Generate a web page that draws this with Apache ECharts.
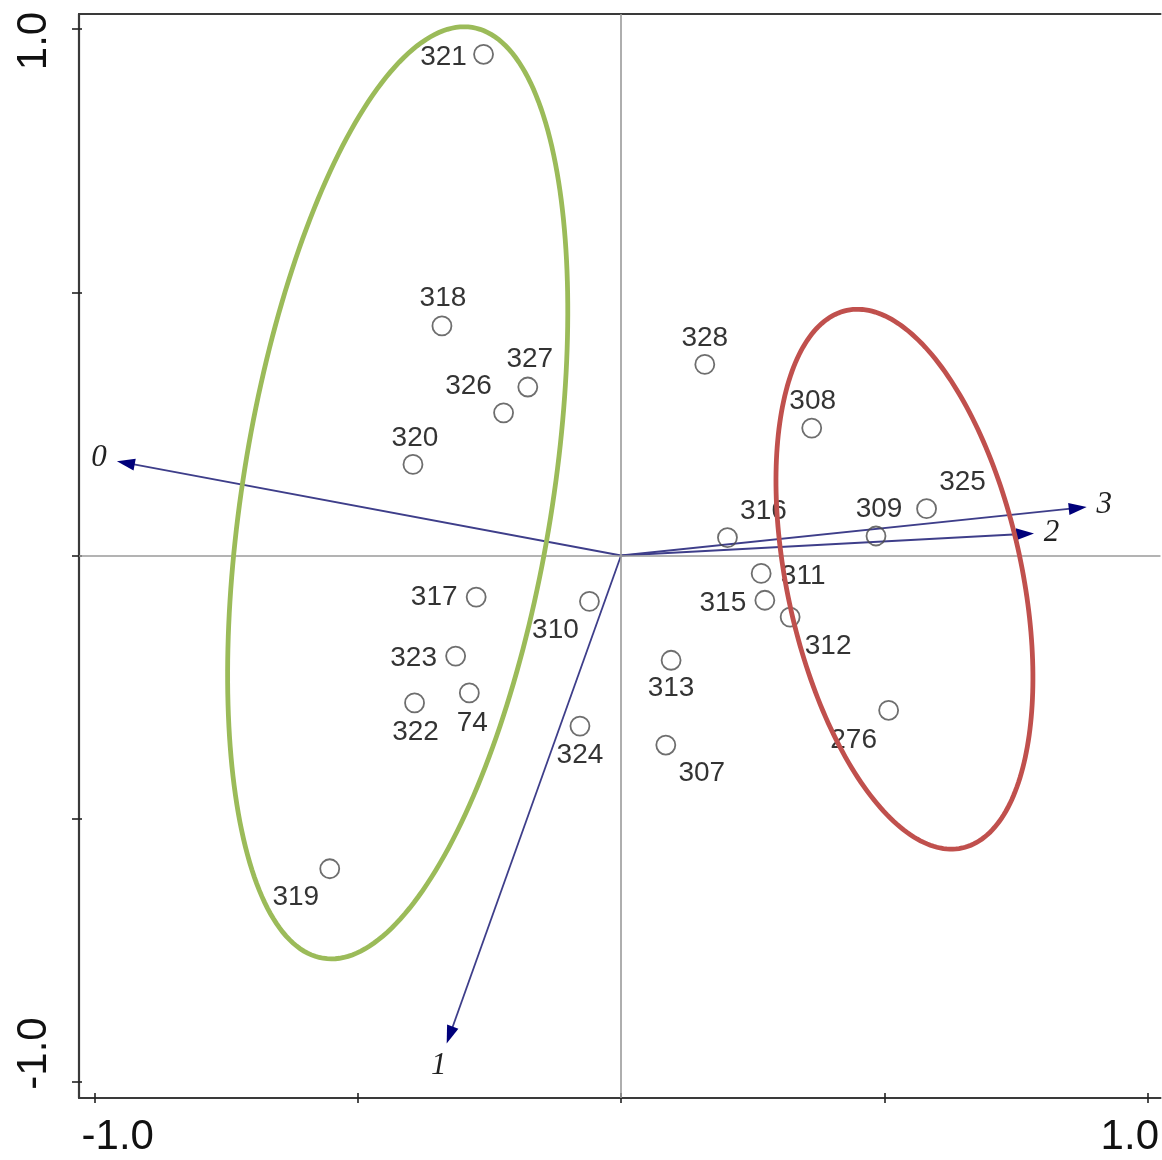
<!DOCTYPE html>
<html><head><meta charset="utf-8">
<script src="https://cdn.jsdelivr.net/npm/echarts@6/dist/echarts.min.js"></script>
<style>html,body{margin:0;padding:0;background:#fff}#c{width:1162px;height:1160px}</style>
</head><body><div id="c"></div>
<script>
// ---- data ----
const pointNames = ['321','318','327','326','320','328','308','325','309','316','311','315','312','317','310','323','74','322','324','313','307','276','319'];
const pointX = [-0.261,-0.340,-0.177,-0.223,-0.395,0.159,0.362,0.580,0.484,0.202,0.266,0.273,0.321,-0.275,-0.060,-0.314,-0.288,-0.392,-0.078,0.095,0.085,0.508,-0.553];
const pointY = [0.952,0.436,0.320,0.271,0.173,0.363,0.242,0.089,0.037,0.034,-0.034,-0.085,-0.117,-0.079,-0.087,-0.191,-0.261,-0.280,-0.324,-0.199,-0.360,-0.294,-0.595];
const arrowNames = ['0','1','2','3'];
const arrowX = [-0.957,-0.331,0.784,0.884];
const arrowY = [0.179,-0.927,0.042,0.092];
const ellipseCX = [-0.424, 0.538];
const ellipseCY = [0.119, -0.045];
const ellipseA = [0.895, 0.522];
const ellipseB = [0.294, 0.223];
const ellipseAngle = [80.9, 102.1];
const xTickValues = [-1,-0.5,0,0.5,1];
const yTickValues = [-1,-0.5,0,0.5,1];
const xLabelValues = [-1,1];
const yLabelValues = [-1,1];
const tickLabelText = {'-1':'-1.0','1':'1.0'};

// ---- styles ----
const ellipseColors = ['#9bbb59','#c0504d'];
const labelOffset = {
  '321':[-40,3],'318':[1,-28],'327':[2,-28],'326':[-35,-27],'320':[2,-26],'328':[0,-26],'308':[1,-27],
  '325':[36,-26],'309':[3,-27],'316':[36,-26],'311':[42,3],'315':[-42,3],'312':[38,29],'317':[-42,0],
  '310':[-34,29],'323':[-42,2],'74':[3,30],'322':[1,29],'324':[0,29],'313':[0,28],'307':[36,28],
  '276':[-35,30],'319':[-34,29]
};
const FONT = '"Liberation Sans", Arial, sans-serif';
const frameColor = '#3a3a3a';
const XMIN=-1.029, XMAX=1.024, YMIN=-1.0304, YMAX=1.0285;

const chart = echarts.init(document.getElementById('c'), null, {renderer:'canvas'});

const tokBase = {fontSize:42, fontFamily:FONT, color:'#111'};
const xAxisBase = {type:'value', min:XMIN, max:XMAX, splitLine:{show:false}};
const yAxisBase = {type:'value', min:YMIN, max:YMAX, splitLine:{show:false}};

const option = {
  animation:false,
  backgroundColor:'#fff',
  grid:{left:79, right:0, top:14, bottom:62, containLabel:false},
  xAxis:[
    Object.assign({}, xAxisBase, {
      position:'bottom',
      axisLine:{show:true, onZero:false, lineStyle:{color:frameColor, width:2.2}},
      axisTick:{show:true, customValues:xTickValues, length:5, lineStyle:{color:'#222', width:1.6}},
      axisLabel:{show:true, customValues:xLabelValues, margin:18,
        formatter:v => (v<0 ? '{l|' : '{r|') + tickLabelText[String(Math.round(v))] + '}',
        rich:{ l:Object.assign({padding:[0,0,0,47]}, tokBase), r:Object.assign({padding:[0,36,0,0]}, tokBase) }
      }
    }),
    Object.assign({}, xAxisBase, {
      position:'bottom',
      axisLine:{show:false, onZero:false},
      axisTick:{show:true, inside:true, customValues:xTickValues, length:5, lineStyle:{color:'#222', width:1.6}},
      axisLabel:{show:false}
    }),
    Object.assign({}, xAxisBase, {
      position:'top',
      axisLine:{show:true, onZero:false, lineStyle:{color:frameColor, width:2.2}},
      axisTick:{show:false}, axisLabel:{show:false}
    })
  ],
  yAxis:[
    Object.assign({}, yAxisBase, {
      position:'left',
      axisLine:{show:true, onZero:false, lineStyle:{color:frameColor, width:2.2}},
      axisTick:{show:true, customValues:yTickValues, length:7, lineStyle:{color:'#222', width:1.6}},
      axisLabel:{show:true, customValues:yLabelValues, rotate:90, margin:24,
        formatter:v => (v<0 ? '{l|' : '{r|') + tickLabelText[String(Math.round(v))] + '}',
        rich:{ l:Object.assign({padding:[0,0,0,57]}, tokBase), r:Object.assign({padding:[0,24,0,0]}, tokBase) }
      }
    }),
    Object.assign({}, yAxisBase, {
      position:'left',
      axisLine:{show:false, onZero:false},
      axisTick:{show:true, inside:true, customValues:yTickValues, length:3, lineStyle:{color:'#222', width:1.6}},
      axisLabel:{show:false}
    })
  ],
  series:[
    {
      type:'line', data:[], z:1, silent:true,
      markLine:{ silent:true, symbol:['none','none'], label:{show:false},
        lineStyle:{color:'#9a9a9a', width:1.6, type:'solid'},
        data:[{xAxis:0},{yAxis:0}] }
    },
    {
      type:'custom', coordinateSystem:'cartesian2d', z:2, silent:true,
      data: arrowX.map((x,i)=>[x, arrowY[i]]),
      renderItem:function(params, api){
        const o = api.coord([0,0]);
        const t = api.coord([api.value(0), api.value(1)]);
        const dx=t[0]-o[0], dy=t[1]-o[1];
        const L=Math.hypot(dx,dy), ux=dx/L, uy=dy/L;
        const hl=18, hw=6;
        const bx=t[0]-ux*hl, by=t[1]-uy*hl;
        const px=-uy, py=ux;
        const dist = 17 + 7*Math.abs(uy);
        return {type:'group', children:[
          {type:'line', shape:{x1:o[0],y1:o[1],x2:bx+ux*2,y2:by+uy*2}, style:{stroke:'#3e3e8a', lineWidth:1.8}},
          {type:'polygon', shape:{points:[[t[0],t[1]],[bx+px*hw,by+py*hw],[bx-px*hw,by-py*hw]]}, style:{fill:'#00007a'}},
          {type:'text', x:t[0]+ux*dist, y:t[1]+uy*dist,
            style:{text:arrowNames[params.dataIndex], font:'italic 31px "Liberation Serif", "Times New Roman", serif', fill:'#222', align:'center', verticalAlign:'middle'}}
        ]};
      }
    },
    {
      type:'scatter', z:3, silent:true,
      symbol:'circle', symbolSize:19,
      itemStyle:{color:'rgba(255,255,255,0)', borderColor:'#4a4a4a', borderWidth:1.8},
      label:{show:true, position:'inside', fontSize:28, fontFamily:FONT, color:'#000', textBorderWidth:0, formatter:'{b}'},
      data: pointNames.map((n,i)=>({name:n, value:[pointX[i], pointY[i]], label:{offset:labelOffset[n]}}))
    },
    {
      type:'custom', coordinateSystem:'cartesian2d', z:5, silent:true,
      data: ellipseCX.map((cx,i)=>[cx, ellipseCY[i], ellipseA[i], ellipseB[i], ellipseAngle[i]]),
      renderItem:function(params, api){
        const c = api.coord([api.value(0), api.value(1)]);
        const s = api.size([1,1]);
        const sc = (s[0]+s[1])/2;
        const a = api.value(2)*sc, b = api.value(3)*sc, phi = api.value(4)*Math.PI/180;
        const pts=[];
        const N=240;
        for(let k=0;k<N;k++){
          const t=k/N*2*Math.PI;
          const ex=a*Math.cos(t), ey=b*Math.sin(t);
          pts.push([c[0]+ex*Math.cos(phi)-ey*Math.sin(phi), c[1]-(ex*Math.sin(phi)+ey*Math.cos(phi))]);
        }
        return {type:'polygon', shape:{points:pts}, style:{fill:'none', stroke:ellipseColors[params.dataIndex], lineWidth:4.8}};
      }
    }
  ]
};
chart.setOption(option);
</script>
</body></html>
